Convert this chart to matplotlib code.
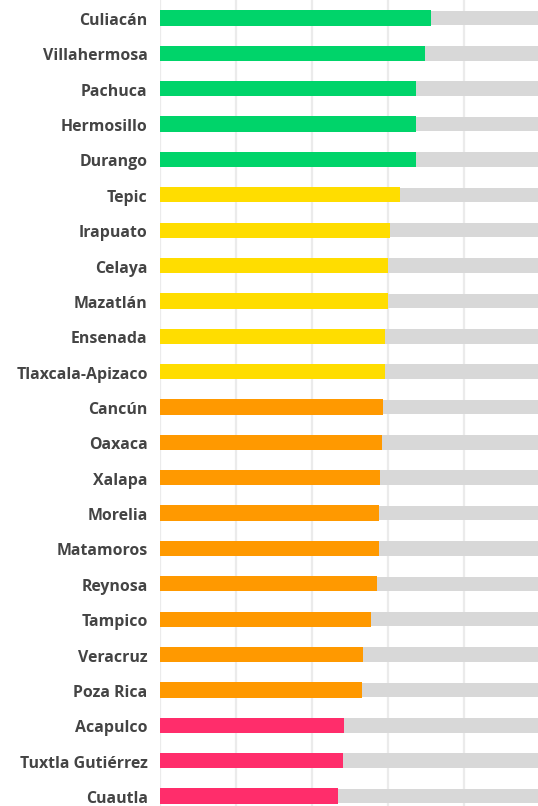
import matplotlib
matplotlib.use("Agg")
import matplotlib.pyplot as plt
from matplotlib.transforms import ScaledTranslation

cities = ["Culiacán", "Villahermosa", "Pachuca", "Hermosillo", "Durango", "Tepic",
          "Irapuato", "Celaya", "Mazatlán", "Ensenada", "Tlaxcala-Apizaco", "Cancún",
          "Oaxaca", "Xalapa", "Morelia", "Matamoros", "Reynosa", "Tampico", "Veracruz",
          "Poza Rica", "Acapulco", "Tuxtla Gutiérrez", "Cuautla"]
values = [71.2, 69.7, 67.4, 67.3, 67.2, 63.2, 60.6, 59.9, 59.9, 59.3, 59.3, 58.6,
          58.3, 58.0, 57.7, 57.7, 57.0, 55.6, 53.3, 53.1, 48.5, 48.2, 46.9]
groups = ["g"] * 5 + ["y"] * 6 + ["o"] * 9 + ["p"] * 3
max_value = 100
ticks = [0, 20, 40, 60, 80, 100]

palette = {"g": "#00D46A", "y": "#FFDD00", "o": "#FF9900", "p": "#FF2D6B"}

W, H = 538, 806
fig = plt.figure(figsize=(W / 100, H / 100), dpi=100)
left_px, right_px = 159.5, 540.5
ax = fig.add_axes([left_px / W, 0, (right_px - left_px) / W, 1])

ypos = list(range(len(cities)))
ax.barh(ypos, [max_value] * len(cities), height=0.41, color="#D8D8D8", zorder=1)
ax.barh(ypos, values, height=0.43, color=[palette[g] for g in groups], zorder=2)

ax.set_xlim(0, max_value)
ax.set_ylim(22.283, -0.509)
ax.set_xticks(ticks)
ax.xaxis.grid(True, color="#EBEBEB", linewidth=1.6, zorder=0)
ax.set_axisbelow(True)
ax.tick_params(axis="x", length=0, labelbottom=False)
ax.tick_params(axis="y", length=0, pad=8.5)
ax.set_yticks(ypos)
ax.set_yticklabels(cities, fontfamily="Open Sans", fontweight="bold",
                   fontsize=11.4, color="#444444")
shift = ScaledTranslation(0, -1.0 / 100, fig.dpi_scale_trans)
for lab in ax.get_yticklabels():
    lab.set_transform(lab.get_transform() + shift)
for s in ax.spines.values():
    s.set_visible(False)

fig.savefig("out.png", dpi=100)
